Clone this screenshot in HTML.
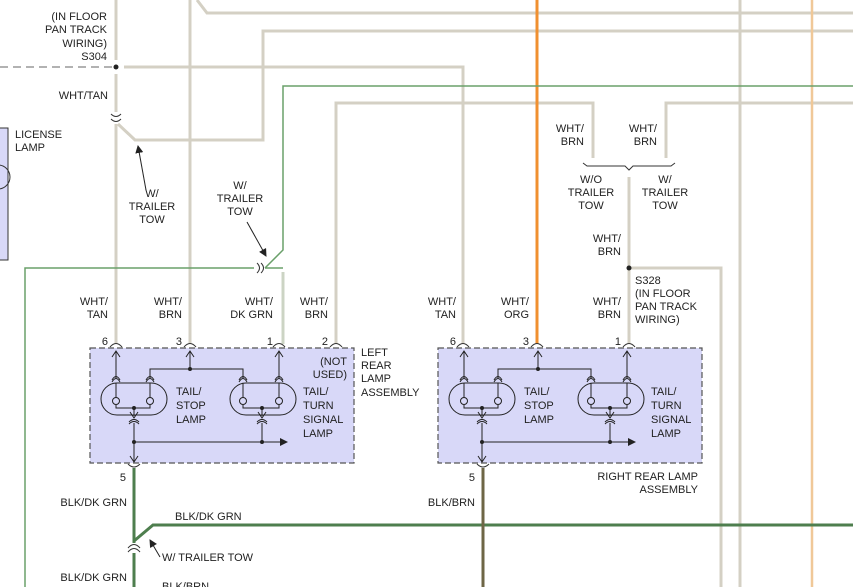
<!DOCTYPE html>
<html><head><meta charset="utf-8"><style>
html,body{margin:0;padding:0;background:#fff;}
svg{display:block;}
text{font-family:"Liberation Sans",Arial,sans-serif;font-size:11px;fill:#222;}
</style></head><body>
<svg width="853" height="587" viewBox="0 0 853 587" xmlns="http://www.w3.org/2000/svg">
<defs>
<marker id="ar" markerWidth="8" markerHeight="8" refX="7" refY="4" orient="auto" markerUnits="userSpaceOnUse"><path d="M0,0 L8,4 L0,8 Z" fill="#222"/></marker>
<g id="lamp">
 <!-- connectors above lamp -->
 <path d="M-6,5 Q0,-1 6,5 M-6,3 Q0,-3 6,3" fill="none" stroke="#333" stroke-width="1"/>
</g>
<g id="asm">
 <rect x="0" y="0" width="264" height="115" fill="#d8d8f8" stroke="#555" stroke-width="1.2" stroke-dasharray="6,3"/>
 <g fill="none" stroke="#222" stroke-width="1">
  <!-- pin arrows -->
  <path d="M26,30 V4 M22,9 L26,3 L30,9"/>
  <path d="M100,21 V4 M96,9 L100,3 L104,9"/>
  <path d="M189,30 V4 M185,9 L189,3 L193,9"/>
  <path d="M60,30 V21 H153 V30"/>
  <!-- lamp 1 -->
  <rect x="11" y="35" width="66" height="32" rx="16"/>
  <path d="M26,35 Q26,45 26,50 M60,35 V50"/>
  <path d="M22,34 Q26,27 30,34 M56,34 Q60,27 64,34 M22,32 Q26,25 30,32 M56,32 Q60,25 64,32"/>
  <circle cx="26" cy="53" r="3.5"/><circle cx="60" cy="53" r="3.5"/>
  <path d="M26,57 V60 H60 V57 M44,60 V68 M40,64 L44,70 L48,64"/>
  <path d="M39,74 Q44,69 49,74 M39,76 Q44,71 49,76"/>
  <path d="M44,75 V113 M40,108 L44,114 L48,108"/>
  <!-- lamp 2 -->
  <rect x="140" y="35" width="66" height="32" rx="16"/>
  <path d="M153,35 V50 M189,35 V50"/>
  <path d="M149,34 Q153,27 157,34 M185,34 Q189,27 193,34 M149,32 Q153,25 157,32 M185,32 Q189,25 193,32"/>
  <circle cx="153" cy="53" r="3.5"/><circle cx="189" cy="53" r="3.5"/>
  <path d="M153,57 V60 H189 V57 M172,60 V68 M168,64 L172,70 L176,64"/>
  <path d="M167,74 Q172,69 177,74 M167,76 Q172,71 177,76"/>
  <path d="M172,75 V94 M44,94 H192"/>
 </g>
 <path d="M190,90 L198,94 L190,98 Z" fill="#222"/>
 <circle cx="44" cy="94" r="2" fill="#222"/><circle cx="172" cy="94" r="2" fill="#222"/>
 <circle cx="100" cy="21" r="2" fill="#222"/><circle cx="44" cy="60" r="2" fill="#222"/><circle cx="172" cy="60" r="2" fill="#222"/>
 <text x="86" y="47">TAIL/</text><text x="86" y="61">STOP</text><text x="86" y="75">LAMP</text>
 <text x="213" y="47">TAIL/</text><text x="213" y="61">TURN</text><text x="213" y="75">SIGNAL</text><text x="213" y="89">LAMP</text>
</g>
</defs>

<!-- license lamp -->
<rect x="-2" y="128" width="10" height="132" fill="#d8d8f8" stroke="#333" stroke-width="1"/>
<path d="M-2,165 A12,12 0 0 1 -2,189" fill="none" stroke="#333"/>
<text x="15" y="138">LICENSE</text><text x="15" y="151">LAMP</text>

<!-- beige wires -->
<g fill="none" stroke="#d4d0c4" stroke-width="3">
 <path d="M116,0 V60 M116,74 V112 M116,124 V344"/>
 <path d="M190,0 V344"/>
 <path d="M197,0 L207,13 H853"/>
 <path d="M853,31 H263 V140 H135 L118,124"/>
 <path d="M124,67 H463 V344"/>
 <path d="M336,344 V103 H593 V158"/>
 <path d="M853,103 H666 V158"/>
 <path d="M629,177 V344 M629,268 H721 V587"/>
 <path d="M740,0 V587"/>
 <path d="M283,272 V344" stroke="#ccd4c4"/>
</g>
<path d="M812,0 V587" stroke="#f0c898" stroke-width="2.5"/>
<path d="M537,0 V344" stroke="#f09030" stroke-width="3"/>
<path d="M0,67 H114" stroke="#666" stroke-width="1" stroke-dasharray="8,5"/>
<circle cx="116" cy="67" r="2.5" fill="#222"/>
<circle cx="629" cy="268" r="2.5" fill="#222"/>

<!-- green wires -->
<g fill="none" stroke="#6aa06a" stroke-width="1.5">
 <path d="M853,86 H283 V250 L265,268"/>
 <path d="M25,587 V268 H254"/>
 <path d="M265,268 H283"/>
</g>
<!-- connectors top -->
<g fill="none" stroke="#333" stroke-width="1">
 <path d="M111,114 Q116,119 121,114 M111,119 Q116,124 121,119"/>
 <path d="M257,263 Q262,268 257,273 M261,263 Q266,268 261,273"/>
 <path d="M583,163 L587,166 H625 L629,170 L633,166 H671 L675,163"/>
</g>
<path d="M146,190 L138,146" stroke="#222" marker-end="url(#ar)"/>
<path d="M247,222 L266,256" stroke="#222" marker-end="url(#ar)"/>

<!-- pin connectors at boxes -->
<g fill="none" stroke="#333" stroke-width="1">
 <path d="M110,347 Q116,340 122,347 M184,347 Q190,340 196,347 M273,347 Q279,340 285,347 M330,347 Q336,340 342,347"/>
 <path d="M457,347 Q463,340 469,347 M531,347 Q537,340 543,347 M623,347 Q629,340 635,347"/>
 <path d="M128,464 Q134,470 140,464 M477,464 Q483,470 489,464"/>
 <path d="M128,552 Q134,545 140,552 M128,548 Q134,541 140,548"/>
</g>

<use href="#asm" x="90" y="348"/>
<use href="#asm" x="438" y="348"/>

<!-- bottom wires -->
<g fill="none" stroke-width="3">
 <path d="M134,468 V543 M134,553 V587" stroke="#4e7e4e"/>
 <path d="M134,541 L153,525 H853" stroke="#4e7e4e"/>
 <path d="M483,468 V587" stroke="#6e6646"/>
</g>
<path d="M160,557 L150,540" stroke="#222" marker-end="url(#ar)"/>

<!-- labels -->
<g text-anchor="end">
 <text x="107" y="20">(IN FLOOR</text><text x="107" y="33">PAN TRACK</text><text x="107" y="47">WIRING)</text><text x="107" y="60">S304</text>
 <text x="108" y="99">WHT/TAN</text>
 <text x="108" y="305">WHT/</text><text x="108" y="318">TAN</text>
 <text x="182" y="305">WHT/</text><text x="182" y="318">BRN</text>
 <text x="273" y="305">WHT/</text><text x="273" y="318">DK GRN</text>
 <text x="328" y="305">WHT/</text><text x="328" y="318">BRN</text>
 <text x="456" y="305">WHT/</text><text x="456" y="318">TAN</text>
 <text x="529" y="305">WHT/</text><text x="529" y="318">ORG</text>
 <text x="621" y="305">WHT/</text><text x="621" y="318">BRN</text>
 <text x="584" y="132">WHT/</text><text x="584" y="145">BRN</text>
 <text x="657" y="132">WHT/</text><text x="657" y="145">BRN</text>
 <text x="621" y="242">WHT/</text><text x="621" y="255">BRN</text>
 <text x="108" y="345">6</text><text x="182" y="345">3</text><text x="273" y="345">1</text><text x="328" y="345">2</text>
 <text x="456" y="345">6</text><text x="529" y="345">3</text><text x="621" y="345">1</text>
 <text x="126" y="481">5</text><text x="475" y="481">5</text>
 <text x="347" y="365">(NOT</text><text x="347" y="378">USED)</text>
 <text x="698" y="480">RIGHT REAR LAMP</text><text x="698" y="493">ASSEMBLY</text>
 <text x="127" y="506">BLK/DK GRN</text><text x="475" y="506">BLK/BRN</text>
 <text x="127" y="581">BLK/DK GRN</text>
</g>
<g text-anchor="middle">
 <text x="152" y="197">W/</text><text x="152" y="210">TRAILER</text><text x="152" y="223">TOW</text>
 <text x="240" y="189">W/</text><text x="240" y="202">TRAILER</text><text x="240" y="215">TOW</text>
 <text x="591" y="183">W/O</text><text x="591" y="196">TRAILER</text><text x="591" y="209">TOW</text>
 <text x="665" y="183">W/</text><text x="665" y="196">TRAILER</text><text x="665" y="209">TOW</text>
</g>
<text x="361" y="356">LEFT</text><text x="361" y="369">REAR</text><text x="361" y="382">LAMP</text><text x="361" y="396">ASSEMBLY</text>
<text x="635" y="284">S328</text><text x="635" y="297">(IN FLOOR</text><text x="635" y="310">PAN TRACK</text><text x="635" y="323">WIRING)</text>
<text x="175" y="520">BLK/DK GRN</text>
<text x="162" y="561">W/ TRAILER TOW</text>
<text x="162" y="590">BLK/BRN</text>
</svg>
</body></html>
